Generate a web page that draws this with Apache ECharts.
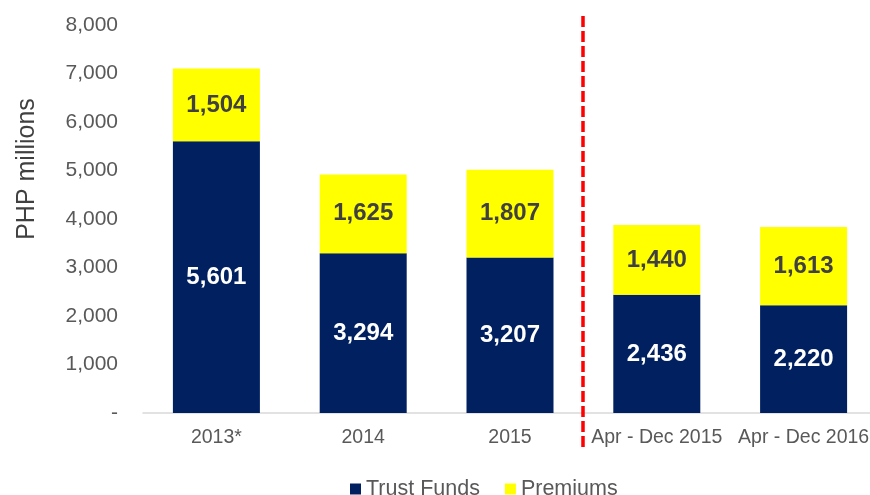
<!DOCTYPE html>
<html>
<head>
<meta charset="utf-8">
<script src="https://cdn.jsdelivr.net/npm/echarts@6/dist/echarts.min.js"></script>
<style>
  html, body { margin: 0; padding: 0; background: #fff; overflow: hidden; }
  #chart { width: 880px; height: 495px; }
</style>
</head>
<body>
<div id="chart"></div>
<script>
// Periods shown on the category axis
const categories = ['2013*', '2014', '2015', 'Apr - Dec 2015', 'Apr - Dec 2016'];
// Stacked components, PHP millions
const trustFunds = [5601, 3294, 3207, 2436, 2220];
const premiums = [1504, 1625, 1807, 1440, 1613];
// Value axis range
const yMin = 0;
const yMax = 8000;
const yStep = 1000;

const FONT = '"Liberation Sans", Arial, sans-serif';
const fmt = v => v.toLocaleString('en-US');

const chart = echarts.init(document.getElementById('chart'), null, { renderer: 'canvas' });

chart.setOption({
  animation: false,
  textStyle: { fontFamily: FONT },
  grid: { left: 143, top: 25, width: 734, height: 388, containLabel: false },
  legend: {
    top: 473,
    left: 345,
    itemWidth: 11,
    itemHeight: 11,
    itemGap: 25,
    icon: 'rect',
    textStyle: { fontFamily: FONT, fontSize: 21.5, color: '#595959' },
    data: ['Trust Funds', 'Premiums']
  },
  xAxis: {
    type: 'category',
    data: categories,
    axisLine: { lineStyle: { color: '#d9d9d9', width: 1.5 } },
    axisTick: { show: false },
    axisLabel: { interval: 0, fontFamily: FONT, fontSize: 19.5, color: '#595959', margin: 15 }
  },
  yAxis: {
    type: 'value',
    min: yMin,
    max: yMax,
    interval: yStep,
    axisLine: { show: false },
    axisTick: { show: false },
    splitLine: { show: false },
    axisLabel: {
      fontFamily: FONT, fontSize: 21, color: '#595959', margin: 25,
      formatter: v => (v === 0 ? '-' : fmt(v))
    }
  },
  series: [
    {
      name: 'Trust Funds',
      type: 'bar',
      stack: 'total',
      barWidth: 87,
      data: trustFunds,
      itemStyle: { color: '#002060' },
      label: {
        show: true, position: 'inside', color: '#ffffff',
        fontFamily: FONT, fontSize: 24, fontWeight: 'bold',
        formatter: p => fmt(p.value)
      }
    },
    {
      name: 'Premiums',
      type: 'bar',
      stack: 'total',
      barWidth: 87,
      data: premiums,
      itemStyle: { color: '#ffff00' },
      label: {
        show: true, position: 'inside', color: '#404040',
        fontFamily: FONT, fontSize: 24, fontWeight: 'bold',
        formatter: p => fmt(p.value)
      }
    }
  ]
});

// Divider between full-year and partial-year periods, placed midway between categories
const xA = chart.convertToPixel({ xAxisIndex: 0 }, categories[2]);
const xB = chart.convertToPixel({ xAxisIndex: 0 }, categories[3]);
const xDiv = Math.round((xA + xB) / 2);

chart.setOption({
  graphic: [
    {
      type: 'line',
      shape: { x1: xDiv, y1: 16, x2: xDiv, y2: 451 },
      style: { stroke: '#ff0000', lineWidth: 3.5, lineDash: [11, 4] },
      z: 10
    },
    {
      type: 'text',
      x: 27,
      y: 169,
      rotation: Math.PI / 2,
      style: {
        text: 'PHP millions',
        fontFamily: FONT,
        fontSize: 25,
        fill: '#404040',
        align: 'center',
        verticalAlign: 'middle'
      }
    }
  ]
});
</script>
</body>
</html>
